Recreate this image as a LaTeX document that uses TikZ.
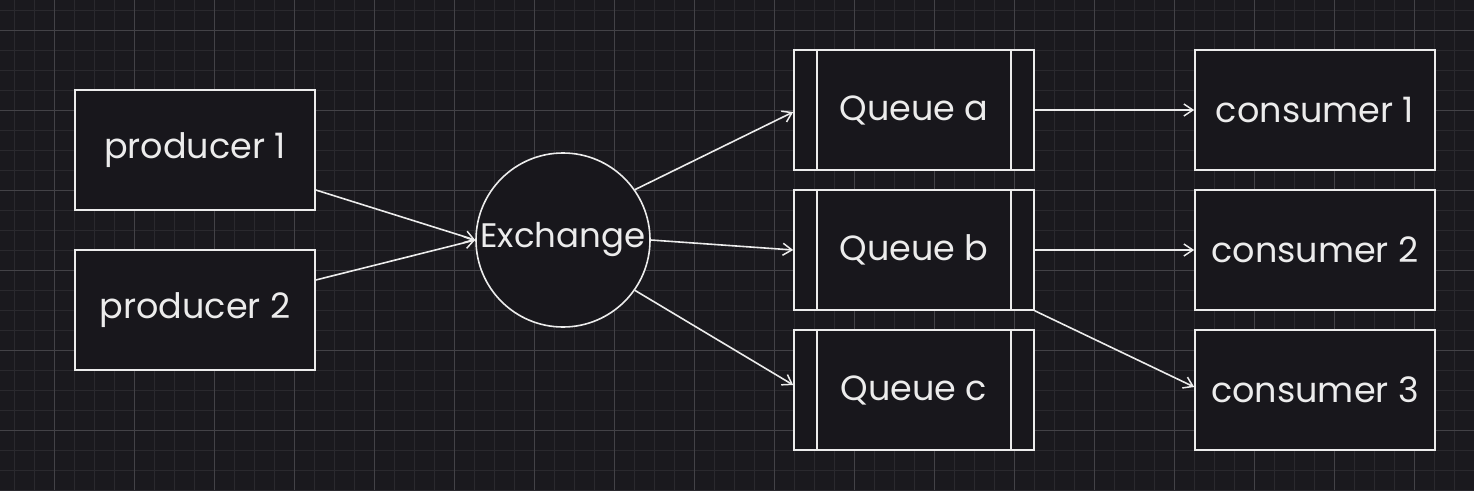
\documentclass[tikz,border=0pt]{standalone}
\usepackage{fontspec}
\setmainfont{Poppins}
\usetikzlibrary{arrows.meta}
\definecolor{bgc}{HTML}{1A191E}
\definecolor{minorc}{HTML}{2A292E}
\definecolor{majorc}{HTML}{434247}
\definecolor{inkc}{HTML}{ECECEC}
\definecolor{fillc}{HTML}{18171C}
\tikzset{
  box/.style={draw=inkc, fill=fillc, line width=1.6pt, minimum width=240pt, minimum height=120pt, inner sep=0pt, text=inkc, font=\fontsize{35}{40}\selectfont},
  circ/.style={draw=inkc, fill=fillc, circle, line width=1.6pt, minimum size=174pt, inner sep=0pt, text=inkc, font=\fontsize{34}{40}\selectfont},
  conn/.style={draw=inkc, line width=1.6pt, -{Straight Barb[length=9pt,width=12pt,line width=1.5pt]}},
}
\begin{document}
\begin{tikzpicture}[x=1pt,y=-1pt]
\fill[bgc] (0,0) rectangle (1474,490);
\useasboundingbox (0,0) rectangle (1474,490);
\foreach \x in {14,34,...,1474} \draw[minorc, line width=1pt] (\x,0) -- (\x,490);
\foreach \y in {10,30,...,490} \draw[minorc, line width=1pt] (0,\y) -- (1474,\y);
\foreach \x in {54,134,...,1474} \draw[majorc, line width=1pt] (\x,0) -- (\x,490);
\foreach \y in {30,110,...,490} \draw[majorc, line width=1pt] (0,\y) -- (1474,\y);

\node[box] (p1) at (195,150) {producer 1};
\node[box] (p2) at (195,310) {producer 2};
\node[circ] (ex) at (563,240) {Exchange};
\node[box] (qa) at (914,110) {Queue a};
\node[box] (qb) at (914,250) {Queue b};
\node[box] (qc) at (914,390) {Queue c};
\foreach \q in {qa,qb,qc} {
  \draw[inkc, line width=1.6pt] ([xshift=24pt]\q.north west) -- ([xshift=24pt]\q.south west);
  \draw[inkc, line width=1.6pt] ([xshift=-24pt]\q.north east) -- ([xshift=-24pt]\q.south east);
}
\node[box] (c1) at (1315,110) {consumer 1};
\node[box] (c2) at (1315,250) {consumer 2};
\node[box] (c3) at (1315,390) {consumer 3};

\draw[conn] ([yshift=-40pt]p1.east) -- (ex.west);
\draw[conn] ([yshift=30pt]p2.east) -- (ex.west);
\draw[conn] (ex.35) -- ([yshift=-2pt]qa.west);
\draw[conn] (ex.east) -- (qb.west);
\draw[conn] (ex.-35) -- ([yshift=5pt]qc.west);
\draw[conn] (qa.east) -- (c1.west);
\draw[conn] (qb.east) -- (c2.west);
\draw[conn] (qb.south east) -- ([yshift=3pt]c3.west);
\end{tikzpicture}
\end{document}
